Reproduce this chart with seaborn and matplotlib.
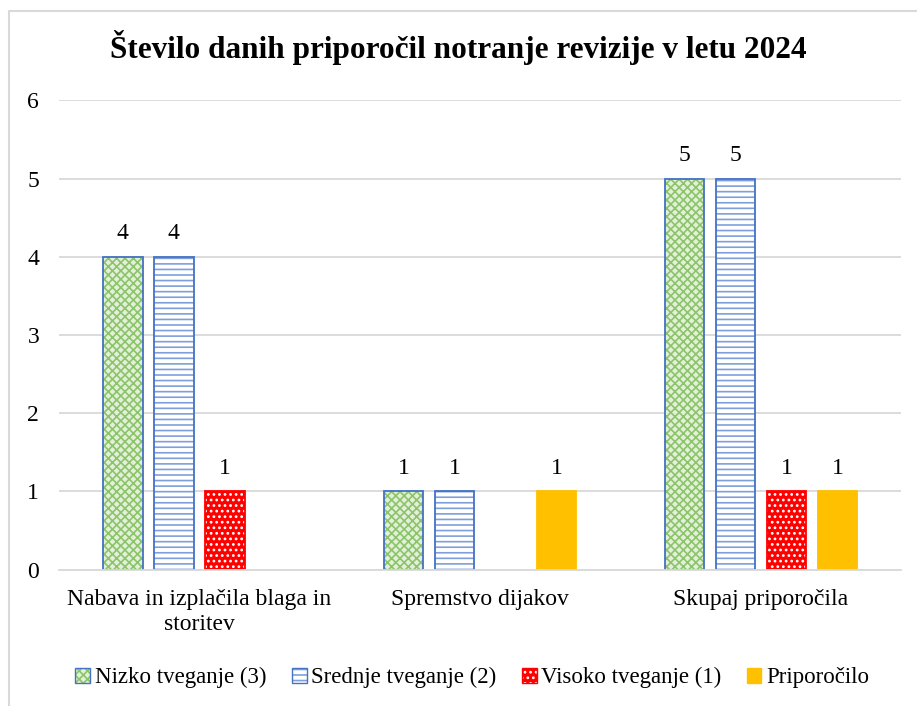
import numpy as np
import pandas as pd
import seaborn as sns
import matplotlib.pyplot as plt
import matplotlib.colors as mcolors
from matplotlib.patches import Patch
from matplotlib.lines import Line2D

# data
categories = ["Nabava in izplačila blaga in\nstoritev", "Spremstvo dijakov", "Skupaj priporočila"]
series = ["Nizko tveganje (3)", "Srednje tveganje (2)", "Visoko tveganje (1)", "Priporočilo"]
nizko = [4, 1, 5]
srednje = [4, 1, 5]
visoko = [1, np.nan, 1]
priporocilo = [np.nan, 1, 1]

# bar styles: face, edge, hatch, hatch colour
styles = {
    "Nizko tveganje (3)": ("#E2F0D9", "#4472C4", "xxxx", "#8CC46A"),
    "Srednje tveganje (2)": ("white", "#4472C4", "---", "#7F9FDB"),
    "Visoko tveganje (1)": ("#FF0000", "#FF0000", "...", "white"),
    "Priporočilo": ("#FFC000", "#FFC000", "", "#FFC000"),
}

rows = []
for name, vals in zip(series, [nizko, srednje, visoko, priporocilo]):
    for cat, v in zip(categories, vals):
        rows.append({"kategorija": cat, "serija": name, "vrednost": v})
df = pd.DataFrame(rows)

sns.set_theme(style="white")
plt.rcParams['font.family'] = ['Liberation Serif', 'DejaVu Serif']
plt.rcParams['text.color'] = 'black'
plt.rcParams['hatch.linewidth'] = 1.2

fig = plt.figure(figsize=(9.17, 7.06), dpi=100)
ax = fig.add_axes([0.064, 0.193, 0.919, 0.665])

sns.barplot(data=df, x="kategorija", y="vrednost", hue="serija",
            order=categories, hue_order=series, width=0.726, gap=0.22,
            errorbar=None, legend=False, ax=ax)

for cont, name in zip(ax.containers, series):
    face, edge, hatch, hcol = styles[name]
    for p in cont.patches:
        p.set_facecolor(face)
        p.set_edgecolor(edge)
        p.set_linewidth(1.3)
        p.set_hatch(hatch)
        p._hatch_color = mcolors.to_rgba(hcol)
    labels = ["" if (np.isnan(v) or v == 0) else f"{v:g}" for v in cont.datavalues]
    ax.bar_label(cont, labels=labels, padding=9, fontsize=17, color="black")

ax.set_ylim(0, 6)
ax.set_xlim(-0.5, 2.5)
ax.set_yticks(range(0, 7))
ax.yaxis.grid(True, color="#D9D9D9", linewidth=1.3)
ax.set_axisbelow(True)
for s in ["top", "right", "left"]:
    ax.spines[s].set_visible(False)
ax.spines["bottom"].set_color("#D9D9D9")
ax.spines["bottom"].set_linewidth(1.3)
ax.tick_params(axis="both", length=0, labelsize=17, colors="black")
ax.tick_params(axis="y", pad=14)
ax.tick_params(axis="x", pad=14)
for t in ax.get_xticklabels():
    t.set_linespacing(1.25)
ax.set_xlabel("")
ax.set_ylabel("")

fig.suptitle("Število danih priporočil notranje revizije v letu 2024",
             fontsize=22.5, fontweight="bold", y=0.958, color="black")

handles = []
for name in series:
    face, edge, hatch, hcol = styles[name]
    h = Patch(facecolor=face, edgecolor=edge, hatch=hatch, linewidth=1, label=name)
    h._hatch_color = mcolors.to_rgba(hcol)
    handles.append(h)
fig.legend(handles=handles, loc="center", bbox_to_anchor=(0.515, 0.04), ncol=4,
           frameon=False, fontsize=16.5, handlelength=0.65, handleheight=0.65,
           handletextpad=0.2, columnspacing=1.1)

# chart area border (only the top and left edges are visible in the image)
x0, y0 = 9 / 917, 1 - 11 / 706
fig.add_artist(Line2D([x0, x0, 1.0], [0.0, y0, y0], transform=fig.transFigure,
                      color="#D9D9D9", linewidth=1.5))

fig.savefig("out.png", dpi=100)
